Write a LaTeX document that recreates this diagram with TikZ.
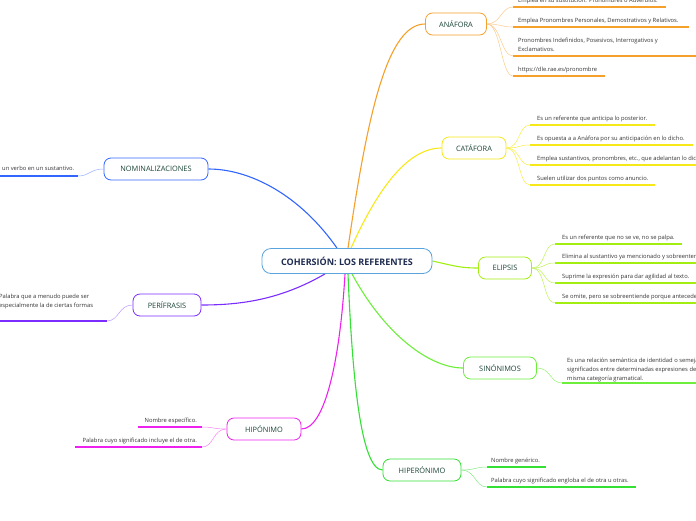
\documentclass[tikz,border=0pt]{standalone}
\usepackage{fontspec}
\setmainfont{Open Sans}
\usetikzlibrary{calc}
\pgfdeclarelayer{bg}
\pgfsetlayers{bg,main}
\definecolor{cblue}{HTML}{5BA3DC}
\definecolor{cnavy}{HTML}{1E2C50}
\definecolor{tgreen}{HTML}{1B4436}
\definecolor{leafgray}{HTML}{333333}
\definecolor{corange}{HTML}{F5A02A}
\definecolor{cyellow}{HTML}{F7E81A}
\definecolor{clime}{HTML}{A2EE10}
\definecolor{cgreen}{HTML}{6CEE3A}
\definecolor{cgreenb}{HTML}{33E033}
\definecolor{cmag}{HTML}{EE22EE}
\definecolor{cpurple}{HTML}{7B2CFF}
\definecolor{cbluen}{HTML}{3366FF}
\begin{document}
\begin{tikzpicture}[x=1pt,y=-1pt,
  topic/.style={draw, line width=0.8pt, rounded corners=7pt, fill=white, inner sep=0pt, minimum height=22pt, text=tgreen, font=\fontsize{7.4}{9}\selectfont},
  leaf/.style={anchor=base west, inner sep=0pt, text=leafgray, font=\fontsize{5.8}{9}\selectfont, align=left},
  leafr/.style={anchor=base east, inner sep=0pt, text=leafgray, font=\fontsize{5.8}{9}\selectfont, align=right},
  uline/.style={line width=1.3pt},
  twig/.style={line width=0.5pt},
  branch/.style={line width=1.1pt}]
\useasboundingbox (0,0) rectangle (696,520);
\clip (0,0) rectangle (696,520);

% nodes
\node[draw=cblue, line width=0.8pt, rounded corners=9pt, fill=white, minimum width=170pt, minimum height=25pt, inner sep=0pt, font=\bfseries\fontsize{9}{11}\selectfont, text=cnavy] (c) at (347,261) {COHERSIÓN: LOS REFERENTES};
\node[topic, draw=corange, minimum width=61pt] (ana) at (456,24) {ANÁFORA};
\node[topic, draw=cyellow, minimum width=64pt] (cata) at (474,148) {CATÁFORA};
\node[topic, draw=clime, minimum width=53pt] (eli) at (505,268) {ELIPSIS};
\node[topic, draw=cgreen, minimum width=73pt] (sino) at (500,368) {SINÓNIMOS};
\node[topic, draw=cgreenb, minimum width=78pt] (hiper) at (422,470) {HIPERÓNIMO};
\node[topic, draw=cmag, minimum width=74pt] (hipo) at (264,429) {HIPÓNIMO};
\node[topic, draw=cpurple, minimum width=68pt] (peri) at (167,305) {PERÍFRASIS};
\node[topic, draw=cbluen, minimum width=104pt] (nomi) at (156,169) {NOMINALIZACIONES};

% main branches
\begin{pgfonlayer}{bg}
\draw[branch, cbluen] ($(c.north)+(-10,0)$) .. controls (300,195) and (250,169) .. (nomi.east);
\draw[branch, corange] ($(c.north)+(1,0)$) .. controls (368,110) and (388,24) .. (ana.west);
\draw[branch, cyellow] ($(c.north)+(4,0)$) .. controls (375,195) and (405,148) .. (cata.west);
\draw[branch, clime] (c.east) .. controls (455,266) and (460,268) .. (eli.west);
\draw[branch, cgreen] ($(c.south)+(5,0)$) .. controls (385,335) and (430,368) .. (sino.west);
\draw[branch, cgreenb] ($(c.south)+(1,0)$) .. controls (352,370) and (360,470) .. (hiper.west);
\draw[branch, cmag] ($(c.south)+(-2,0)$) .. controls (340,360) and (325,429) .. (hipo.east);
\draw[branch, cpurple] ($(c.south)+(-22,0)$) .. controls (280,300) and (240,305) .. (peri.east);
\end{pgfonlayer}

% ANÁFORA leaves
\coordinate (a1) at (513,7);
\coordinate (a2) at (513,27);
\coordinate (a3) at (513,56);
\coordinate (a4) at (513,76);
\foreach \p/\l in {a1/153, a2/176, a3/190, a4/92}{
  \draw[twig, corange!55] (ana.east) .. controls +(14,0) and +(-12,0) .. (\p);
  \draw[uline, corange] (\p) -- +(\l,0);
}
\node[leaf] (ta1) at (518,2) {Emplea en su sustitución: Pronombres o Adverbios.};
\node[leaf] (ta2) at (518,22) {Emplea Pronombres Personales, Demostrativos y Relativos.};
\node[leaf] (ta3) at (518,51) {Pronombres Indefinidos, Posesivos, Interrogativos y\\Exclamativos.};
\node[leaf] (ta4) at (518,71) {https://dle.rae.es/pronombre};

% CATÁFORA leaves
\coordinate (b1) at (530,125);
\coordinate (b2) at (530,145);
\coordinate (b3) at (530,165);
\coordinate (b4) at (530,185);
\foreach \p/\l in {b1/125, b2/163, b3/175, b4/125}{
  \draw[twig, cyellow!80] (cata.east) .. controls +(14,0) and +(-12,0) .. (\p);
  \draw[uline, cyellow] (\p) -- +(\l,0);
}
\node[leaf] (tb1) at (537,120) {Es un referente que anticipa lo posterior.};
\node[leaf] (tb2) at (537,140) {Es opuesta a a Anáfora por su anticipación en lo dicho.};
\node[leaf] (tb3) at (537,160) {Emplea sustantivos, pronombres, etc., que adelantan lo dicho.};
\node[leaf] (tb4) at (537,180) {Suelen utilizar dos puntos como anuncio.};

% ELIPSIS leaves
\coordinate (e1) at (555,244);
\coordinate (e2) at (555,263);
\coordinate (e3) at (555,283);
\coordinate (e4) at (555,303);
\foreach \p/\l in {e1/127, e2/150, e3/150, e4/150}{
  \draw[twig, clime!70] (eli.east) .. controls +(14,0) and +(-12,0) .. (\p);
  \draw[uline, clime] (\p) -- +(\l,0);
}
\node[leaf] (te1) at (562,239) {Es un referente que no se ve, no se palpa.};
\node[leaf] (te2) at (562,258) {Elimina al sustantivo ya mencionado y sobreentendido.};
\node[leaf] (te3) at (562,278) {Suprime la expresión para dar agilidad al texto.};
\node[leaf] (te4) at (562,298) {Se omite, pero se sobreentiende porque antecede.};

% SINÓNIMOS leaf
\coordinate (s1) at (562,383);
\draw[twig, cgreen!70] (sino.east) .. controls +(14,0) and +(-12,0) .. (s1);
\draw[uline, cgreen] (s1) -- +(150,0);
\node[leaf] (ts1) at (567,380) {Es una relación semántica de identidad o semejanza de\\significados entre determinadas expresiones de la\\misma categoría gramatical.};

% HIPERÓNIMO leaves
\coordinate (h1) at (487,467);
\coordinate (h2) at (487,487);
\foreach \p/\l in {h1/59, h2/149}{
  \draw[twig, cgreenb!60] (hiper.east) .. controls +(14,0) and +(-12,0) .. (\p);
  \draw[uline, cgreenb] (\p) -- +(\l,0);
}
\node[leaf] (th1) at (491,462) {Nombre genérico.};
\node[leaf] (th2) at (491,482) {Palabra cuyo significado engloba el de otra u otras.};

% HIPÓNIMO leaves
\coordinate (p1) at (202,427);
\coordinate (p2) at (202,447);
\foreach \p/\l in {p1/64, p2/127}{
  \draw[twig, cmag!55] (hipo.west) .. controls +(-14,0) and +(12,0) .. (\p);
  \draw[uline, cmag] (\p) -- +(-\l,0);
}
\node[leafr] (tp1) at (197,422) {Nombre específico.};
\node[leafr] (tp2) at (197,442) {Palabra cuyo significado incluye el de otra.};

% PERÍFRASIS leaf
\coordinate (r1) at (107,321);
\draw[twig, cpurple!50] (peri.west) .. controls +(-14,0) and +(12,0) .. (r1);
\draw[uline, cpurple] (r1) -- +(-110,0);
\node[leaf] (tr1) at (-1,307) {Palabra que a menudo puede ser\\especialmente la de ciertas formas};

% NOMINALIZACIONES leaf
\coordinate (n1) at (78,176);
\draw[twig, cbluen!50] (nomi.west) .. controls +(-14,0) and +(12,0) .. (n1);
\draw[uline, cbluen] (n1) -- +(-80,0);
\node[leaf] (tn1) at (2,170) {un verbo en un sustantivo.};
\end{tikzpicture}
\end{document}
